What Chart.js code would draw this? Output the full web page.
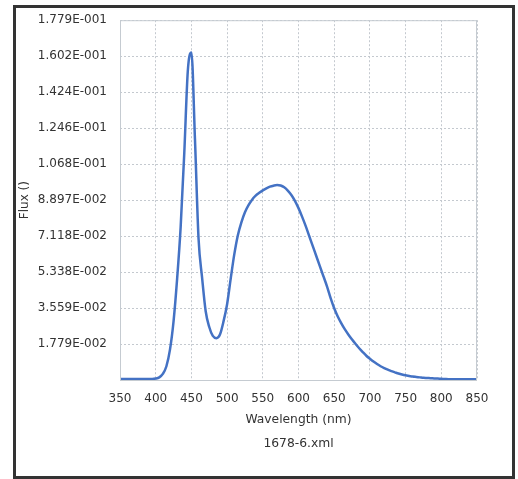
<!DOCTYPE html>
<html>
<head>
<meta charset="utf-8">
<script src="https://cdn.jsdelivr.net/npm/chart.js@4.4.1/dist/chart.umd.min.js"></script>
<style>
    body { margin: 0; background: #fff; }
    #wrap { position: relative; width: 518px; height: 479px; }
    #frame { position: absolute; left: 13px; top: 5px; width: 502px; height: 474px; box-sizing: border-box; border: 3px solid #333; pointer-events: none; }
</style>
</head>
<body>
<div id="wrap">
    <canvas id="myChart" width="518" height="479"></canvas>
    <div id="frame"></div>
</div>
<script>
//Data
var wavelengths = [350, 355, 360, 365, 370, 375, 380, 385, 390, 395,
    400, 405, 410, 415, 420, 425, 430, 435, 440, 445,
    450, 455, 460, 465, 470, 475, 480, 485, 490, 495,
    500, 505, 510, 515, 520, 525, 530, 535, 540, 545,
    550, 555, 560, 565, 570, 575, 580, 585, 590, 595,
    600, 605, 610, 615, 620, 625, 630, 635, 640, 645,
    650, 655, 660, 665, 670, 675, 680, 685, 690, 695,
    700, 705, 710, 715, 720, 725, 730, 735, 740, 745,
    750, 755, 760, 765, 770, 775, 780, 785, 790, 795,
    800, 805, 810, 815, 820, 825, 830, 835, 840, 845, 850];

var flux = [0.0005, 0.0005, 0.0005, 0.0005, 0.0005, 0.0005, 0.0005, 0.0005, 0.0005, 0.0005,
    0.0007, 0.0013, 0.0030, 0.0068, 0.0150, 0.0290, 0.0500, 0.0760, 0.1120, 0.1530,
    0.1620, 0.1190, 0.0700, 0.0505, 0.0340, 0.0262, 0.0218, 0.0207, 0.0225, 0.0290,
    0.0375, 0.0500, 0.0620, 0.0715, 0.0780, 0.0830, 0.0865, 0.0892, 0.0912, 0.0926,
    0.0938, 0.0948, 0.0956, 0.0961, 0.0964, 0.0962, 0.0953, 0.0937, 0.0915, 0.0886,
    0.0850, 0.0808, 0.0762, 0.0712, 0.0662, 0.0612, 0.0562, 0.0512, 0.0462, 0.0405,
    0.0355, 0.0314, 0.0280, 0.0250, 0.0224, 0.0200, 0.0178, 0.0157, 0.0138, 0.0120,
    0.0105, 0.0091, 0.0079, 0.0068, 0.0059, 0.0051, 0.0044, 0.0038, 0.0032, 0.0027,
    0.0023, 0.0020, 0.0017, 0.0015, 0.0013, 0.0011, 0.0010, 0.0009, 0.0008, 0.0007,
    0.0006, 0.0005, 0.0004, 0.0004, 0.0004, 0.0004, 0.0004, 0.0004, 0.0004, 0.0004, 0.0004];

var yTickValues = [0.017794, 0.035588, 0.053382, 0.071176, 0.08897, 0.106764, 0.124558, 0.142352, 0.160146, 0.17794];
var yTickLabels = ["1.779E-002", "3.559E-002", "5.338E-002", "7.118E-002", "8.897E-002",
    "1.068E-001", "1.246E-001", "1.424E-001", "1.602E-001", "1.779E-001"];

var points = [];
for (var i = 0; i < wavelengths.length; i++) {
    points.push({ x: wavelengths[i], y: flux[i] });
}

var gridColor = "rgba(196,201,207,1)";
var textColor = "#333";

//box round the plot area
var plotBorder = {
    id: "plotBorder",
    afterDraw: function (chart) {
        var a = chart.chartArea;
        var ctx = chart.ctx;
        ctx.save();
        ctx.strokeStyle = "#c5cbd1";
        ctx.lineWidth = 1;
        ctx.strokeRect(a.left + 0.5, a.top + 0.5, a.right - a.left - 1, a.bottom - a.top);
        ctx.restore();
    }
};

//Chart
var ctx = document.getElementById("myChart").getContext("2d");
var fluxChart = new Chart(ctx, {
    type: "line",
    data: {
        datasets: [{
            label: "Flux",
            data: points,
            borderColor: "#4472c4",
            borderWidth: 2.5,
            pointRadius: 0,
            cubicInterpolationMode: "monotone",
            fill: false
        }]
    },
    options: {
        responsive: false,
        animation: false,
        layout: { padding: { left: 0, top: 19, right: 41, bottom: 0 } },
        plugins: {
            legend: { display: false },
            tooltip: { enabled: false }
        },
        scales: {
            x: {
                type: "linear",
                min: 350,
                max: 850,
                ticks: { stepSize: 50, color: textColor, padding: 12, maxRotation: 0, font: { family: "DejaVu Sans", size: 12 } },
                grid: { color: gridColor, drawTicks: false },
                border: { display: false, dash: [2, 2] },
                title: {
                    display: true,
                    text: ["Wavelength (nm)", "1678-6.xml"],
                    color: textColor,
                    font: { family: "DejaVu Sans", size: 12.3, lineHeight: 1.95 },
                    padding: { top: 0, bottom: 23 }
                },
                afterFit: function (scale) { scale.height = 99; }
            },
            y: {
                min: 0,
                max: 0.17794,
                afterBuildTicks: function (scale) {
                    scale.ticks = yTickValues.map(function (v) { return { value: v }; });
                },
                ticks: {
                    color: textColor,
                    padding: 13,
                    font: { family: "DejaVu Sans", size: 12 },
                    callback: function (value, index) { return yTickLabels[index]; }
                },
                grid: { color: gridColor, drawTicks: false },
                border: { display: false, dash: [2, 2] },
                title: {
                    display: true,
                    text: "Flux ()",
                    color: textColor,
                    font: { family: "DejaVu Sans", size: 12 },
                    padding: { top: 18, bottom: 0 }
                },
                afterFit: function (scale) { scale.width = 120; }
            }
        }
    },
    plugins: [plotBorder]
});
//End Chart
</script>
</body>
</html>
